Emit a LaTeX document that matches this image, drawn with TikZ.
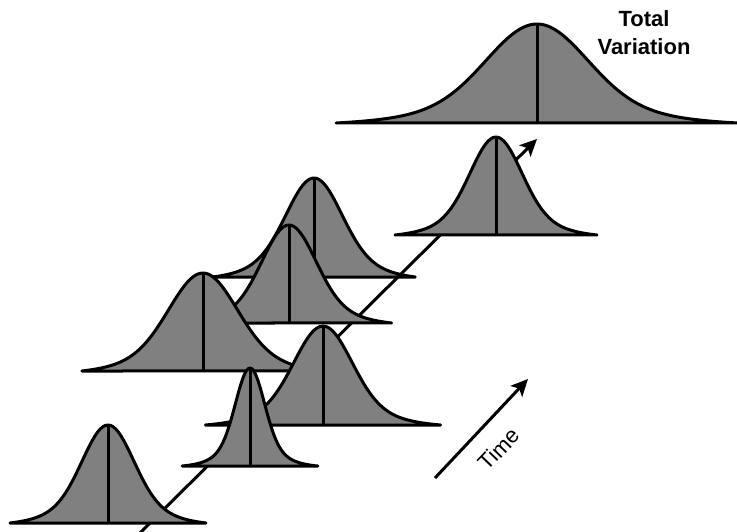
\documentclass[tikz,border=0pt]{standalone}
\usepackage{fontspec}
\setmainfont{Liberation Sans}
\usetikzlibrary{arrows.meta}
\definecolor{bellgray}{gray}{0.5}
\tikzset{
  bellfill/.style={fill=bellgray, draw=black, line width=3pt, line join=round},
  bellaxis/.style={draw=black, line width=3pt},
  trendarrow/.style={draw=black, line width=3pt, -{Stealth[length=17pt,width=16pt,inset=4pt]}},
  titlefont/.style={font=\fontsize{22}{26}\selectfont\bfseries, anchor=base, inner sep=0pt},
  timefont/.style={font=\fontsize{22}{26}\selectfont, rotate=46, inner sep=0pt},
}
% cx, baseline y, height, sigma, extent (in sigma)
\newcommand{\bellcurve}[5]{%
  \path[bellfill] plot[domain=-#5:#5, samples=81, smooth]
    ({#1+#4*\x},{#2-#3*((0.8*exp(-((\x)*(\x))/2)+0.2*exp(-((\x)*(\x))/8))-(0.8*exp(-(#5*#5)/2)+0.2*exp(-(#5*#5)/8)))/(1-(0.8*exp(-(#5*#5)/2)+0.2*exp(-(#5*#5)/8)))}) -- cycle;
  \draw[bellaxis] (#1,#2) -- (#1,#2-#3);
}
\begin{document}
\begin{tikzpicture}[x=1pt,y=-1pt]
\fill[white] (0,0) rectangle (737,532);
\useasboundingbox (0,0) rectangle (737,532);

% diagonal time axis behind the curves
\coordinate (diagtail) at (140,533);
\coordinate (diaghead) at (537,139);
\draw[trendarrow] (diagtail) -- (diaghead);

% total variation
\bellcurve{537}{123}{99}{49}{4.1}
% individual distributions, back to front
\bellcurve{496}{235}{98}{25}{4.04}
\bellcurve{314}{277}{99}{27}{3.75}
\bellcurve{289}{323}{98}{26}{3.95}
\bellcurve{203}{371}{98}{33}{3.67}
\bellcurve{323}{425}{99}{28}{4.2}
\bellcurve{250}{466}{98}{14}{4.85}
\bellcurve{108}{523}{98}{25}{3.92}

% labels
\node[titlefont] (totaltop) at (644,27) {Total};
\node[titlefont] (totalbottom) at (644,55) {Variation};

\coordinate (timetail) at (435,478);
\coordinate (timehead) at (528,379);
\draw[trendarrow] (timetail) -- (timehead);
\node[timefont] (timelabel) at (499,449) {Time};
\end{tikzpicture}
\end{document}
